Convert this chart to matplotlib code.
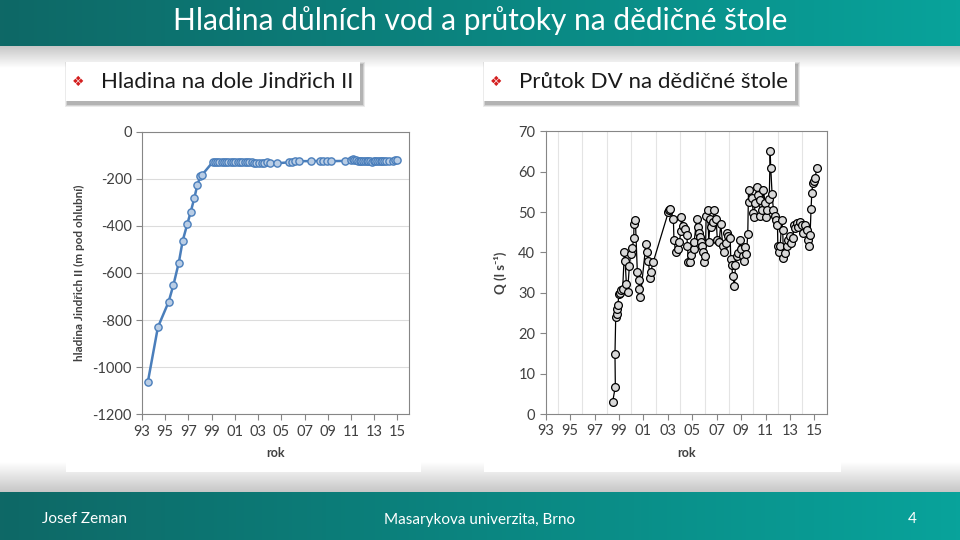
import numpy as np
import matplotlib.pyplot as plt
from matplotlib.patches import Rectangle

# --- data: hladina na dole Jindřich II (m pod ohlubní) ---
lev_year = [1993.51, 1994.37, 1995.29, 1995.71, 1996.17, 1996.51, 1996.89, 1997.20,
            1997.51, 1997.77, 1998.03, 1998.20, 1999.09, 1999.25, 1999.45, 1999.65,
            1999.85, 2000.05, 2000.25, 2000.45, 2000.65, 2000.85, 2001.05, 2001.25,
            2001.45, 2001.65, 2001.85, 2002.05, 2002.25, 2002.45, 2002.65, 2002.85,
            2003.05, 2003.3, 2003.55, 2003.8, 2004.0, 2004.6, 2005.7, 2005.95, 2006.2,
            2006.5, 2007.6, 2008.35, 2008.6, 2008.9, 2009.3, 2010.5, 2011.0, 2011.15,
            2011.3, 2011.45, 2011.6, 2011.75, 2011.9, 2012.05, 2012.2, 2012.35, 2012.5,
            2012.65, 2012.8, 2012.95, 2013.1, 2013.25, 2013.4, 2013.55, 2013.7, 2013.85,
            2014.0, 2014.3, 2014.6, 2014.8, 2015.0]
lev_val = [-1061, -830, -723, -650, -556, -462, -394, -340,
           -281, -226, -189, -182, -129, -129, -129, -128,
           -128, -128, -129, -129, -128, -128, -128, -129,
           -127, -128, -129, -130, -130, -129, -131, -132,
           -131, -133, -132, -130, -132, -134, -130, -128, -126,
           -125, -125, -124, -124, -125, -125, -124, -121, -117,
           -120, -122, -123, -124, -124, -125, -124, -126, -125,
           -126, -127, -126, -126, -125, -124, -123, -123, -124,
           -124, -124, -123, -122, -120]

# --- data: průtok DV na dědičné štole (l/s) ---
q_year = [1998.48, 1998.70, 1998.67, 1998.73, 1998.80, 1998.86, 1998.90, 1999.00,
          1999.10, 1999.20, 1999.30, 1999.44, 1999.50, 1999.60, 1999.70, 1999.85,
          1999.95, 2000.10, 2000.20, 2000.23, 2000.34, 2000.50, 2000.64, 2000.66,
          2000.75, 2001.20, 2001.30, 2001.40, 2001.55, 2001.60, 2001.80, 2003.04,
          2003.10, 2003.20, 2003.45, 2003.50, 2003.64, 2003.86, 2003.94, 2004.08,
          2004.10, 2004.27, 2004.40, 2004.55, 2004.60, 2004.68, 2004.80, 2004.93,
          2005.10, 2005.15, 2005.36, 2005.45, 2005.53, 2005.64, 2005.72, 2005.77,
          2005.90, 2005.96, 2006.07, 2006.13, 2006.26, 2006.35, 2006.46, 2006.56,
          2006.70, 2006.80, 2006.95, 2007.05, 2007.20, 2007.33, 2007.50, 2007.57,
          2007.74, 2007.87, 2007.96, 2008.10, 2008.15, 2008.23, 2008.30, 2008.45,
          2008.53, 2008.64, 2008.77, 2008.90, 2009.00, 2009.13, 2009.24, 2009.35,
          2009.43, 2009.54, 2009.60, 2009.67, 2009.87, 2010.00, 2010.06, 2010.14,
          2010.28, 2010.40, 2010.50, 2010.55, 2010.70, 2010.82, 2010.96, 2011.04,
          2011.15, 2011.30, 2011.37, 2011.42, 2011.53, 2011.64, 2011.78, 2011.86,
          2011.97, 2012.00, 2012.10, 2012.19, 2012.32, 2012.40, 2012.46, 2012.60,
          2012.73, 2012.87, 2013.00, 2013.09, 2013.22, 2013.33, 2013.44, 2013.55,
          2013.69, 2013.82, 2013.96, 2014.10, 2014.23, 2014.37, 2014.50, 2014.59,
          2014.64, 2014.72, 2014.78, 2014.86, 2014.97, 2015.05, 2015.19]
q_val = [3.0, 6.8, 14.9, 23.9, 24.8, 25.9, 26.9, 29.7,
         30.0, 30.7, 31.0, 40.0, 38.0, 32.3, 30.3, 36.6,
         39.5, 41.2, 43.5, 47.0, 48.0, 35.2, 33.3, 30.9,
         29.0, 42.0, 40.0, 38.0, 33.6, 35.2, 37.6, 50.0,
         50.5, 50.7, 48.2, 43.1, 40.2, 40.8, 42.7, 45.4,
         48.7, 46.6, 45.7, 44.3, 41.6, 37.7, 37.7, 39.4,
         40.8, 42.7, 48.2, 46.4, 44.9, 43.9, 42.7, 41.5,
         40.2, 37.7, 39.0, 49.0, 50.4, 42.7, 48.2, 46.4,
         47.6, 50.4, 48.2, 43.1, 42.7, 47.0, 41.5, 40.2,
         42.4, 44.8, 44.1, 43.5, 38.5, 36.9, 34.2, 31.8,
         36.9, 39.0, 39.8, 43.1, 40.8, 39.0, 37.9, 41.3,
         39.6, 44.6, 55.5, 52.4, 53.4, 49.7, 48.7, 52.2,
         56.3, 54.3, 53.0, 49.0, 50.5, 55.5, 52.2, 48.9,
         50.5, 53.2, 65.2, 61.0, 54.4, 50.5, 49.0, 48.0,
         46.8, 41.6, 40.0, 41.5, 48.0, 45.6, 38.6, 39.8,
         41.5, 43.1, 44.1, 42.3, 43.5, 46.8, 46.0, 47.2,
         46.4, 47.6, 46.8, 44.9, 46.8, 45.6, 43.1, 41.5,
         44.3, 50.8, 54.7, 57.1, 57.6, 58.4, 61.0]

year_ticks = list(range(1993, 2016, 2))
year_labels = [f"{y % 100:02d}" for y in year_ticks]

TEAL_L = np.array([14, 104, 102]) / 255
TEAL_R = np.array([8, 163, 155]) / 255
TXT = '#404040'
plt.rcParams['font.family'] = ['Lato', 'DejaVu Sans']
plt.rcParams['axes.unicode_minus'] = False

fig = plt.figure(figsize=(9.6, 5.4), dpi=100)
fig.patch.set_facecolor('white')

# pozadí slidu v pixelech
bg = fig.add_axes([0, 0, 1, 1])
bg.axis('off')

def hgrad(y0, y1):
    t = np.linspace(0, 1, 256)[None, :, None]
    img = TEAL_L[None, None, :] * (1 - t) + TEAL_R[None, None, :] * t
    bg.imshow(img, extent=(0, 960, y1, y0), aspect='auto', zorder=0)

def vgrey(y0, y1, c0, c1):
    t = np.linspace(0, 1, 64)[:, None, None]
    img = np.ones((64, 1, 3)) * (c0 * (1 - t) + c1 * t)
    bg.imshow(img, extent=(0, 960, y1, y0), aspect='auto', zorder=0)

hgrad(0, 46)
vgrey(46, 68, 0.78, 1.0)
vgrey(462, 492, 1.0, 0.78)
hgrad(492, 540)
bg.set_xlim(0, 960)
bg.set_ylim(540, 0)

# bílé plochy grafů
for x0, x1 in [(66, 421), (484, 841)]:
    bg.add_patch(Rectangle((x0, 110), x1 - x0, 362, facecolor='white', edgecolor='none', zorder=1))

# podnadpisy se stínem
for x0, x1, label in [(66, 360, 'Hladina na dole Jindřich II'),
                      (484, 795, 'Průtok DV na dědičné štole')]:
    for k, a in enumerate([0.08, 0.11, 0.14]):
        d = 3 - k
        bg.add_patch(Rectangle((x0 - d + 2, 62 - d + 3), x1 - x0 + 2 * d, 39 + 2 * d,
                               facecolor='black', alpha=a, edgecolor='none', zorder=2))
    bg.add_patch(Rectangle((x0, 62), x1 - x0, 39, facecolor='white', edgecolor='none', zorder=3))
    bg.text(x0 + 12, 82, '❖', color='#d41f1f', fontsize=10, ha='center', va='center',
            family='DejaVu Sans', zorder=4)
    bg.text(x0 + 35, 82, label, color='#1a1a1a', fontsize=16, ha='left', va='center', zorder=4)

bg.text(480, 21, 'Hladina důlních vod a průtoky na dědičné štole', color='white',
        fontsize=21.5, ha='center', va='center', zorder=4)
bg.text(42, 519, 'Josef Zeman', color='white', fontsize=11, ha='left', va='center')
bg.text(480, 520, 'Masarykova univerzita, Brno', color='white', fontsize=11, ha='center', va='center')
bg.text(912, 519, '4', color='white', fontsize=11, ha='center', va='center')

def style(ax):
    for s in ax.spines.values():
        s.set_color('#868686')
        s.set_linewidth(0.8)
    ax.tick_params(colors=TXT, labelsize=10.5, length=4, width=0.8, color='#868686')
    ax.set_xticks(year_ticks)
    ax.set_xticklabels(year_labels)
    ax.set_xlim(1993, 2016)
    ax.set_xlabel('rok', fontsize=9, fontweight='bold', color=TXT, labelpad=6)

# levý graf
axl = fig.add_axes([142 / 960, 1 - 414.3 / 540, 267 / 960, 282.6 / 540])
axl.plot(lev_year, lev_val, color='#4a7ebb', lw=1.8, marker='o', ms=5.2,
         mfc='#b9cde5', mec='#4a7ebb', mew=1.0, zorder=3)
axl.set_ylim(-1200, 0)
axl.set_yticks(range(-1200, 1, 200))
axl.yaxis.grid(True, color='#dcdcdc', lw=0.8)
axl.set_axisbelow(True)
style(axl)
axl.set_ylabel('hladina Jindřich II (m pod ohlubní)', fontsize=8.5, fontweight='bold',
               color=TXT, labelpad=5)

# pravý graf
axr = fig.add_axes([545.7 / 960, 1 - 414 / 540, 281 / 960, 282.7 / 540])
axr.plot(q_year, q_val, color='black', lw=0.9, marker='o', ms=5.6,
         mfc='#d9d9d9', mec='black', mew=0.9, zorder=3)
axr.set_ylim(0, 70)
axr.set_yticks(range(0, 71, 10))
axr.set_xticks(range(1993, 2017), minor=True)
axr.xaxis.grid(True, which='minor', color='#e4e4e4', lw=0.8)
axr.set_axisbelow(True)
style(axr)
axr.tick_params(which='minor', length=0)
axr.set_ylabel('Q (l s⁻¹)', fontsize=9.5, fontweight='bold', color=TXT, labelpad=8)

fig.savefig('out.png', dpi=100)
